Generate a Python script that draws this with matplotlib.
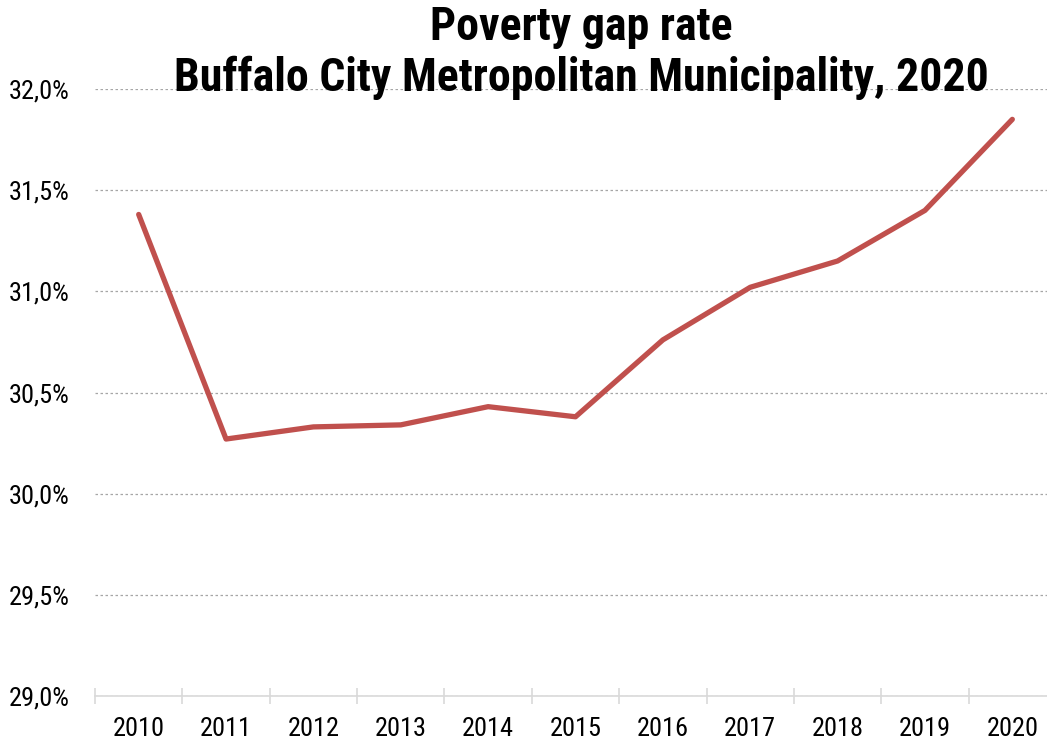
import matplotlib.pyplot as plt
from matplotlib.ticker import FuncFormatter

# --- Data ---
years = ["2010", "2011", "2012", "2013", "2014", "2015",
         "2016", "2017", "2018", "2019", "2020"]
gap_rate = [31.38, 30.27, 30.33, 30.34, 30.43, 30.38,
            30.76, 31.02, 31.15, 31.40, 31.85]

plt.rcParams['font.family'] = ['Roboto Condensed', 'DejaVu Sans']

fig = plt.figure(figsize=(10.47, 7.44), dpi=100)
W, H = 1047, 744
ax = fig.add_axes([95 / W, (H - 696) / H, (1056 - 95) / W, (696 - 89) / H])

x = list(range(len(years)))
ax.plot(x, gap_rate, color='#C0504D', linewidth=3.8, solid_capstyle='round')

ax.set_xlim(-0.5, len(years) - 0.5)
ax.set_ylim(29, 32)
ax.set_yticks([29.0, 29.5, 30.0, 30.5, 31.0, 31.5, 32.0])
ax.yaxis.set_major_formatter(FuncFormatter(lambda v, p: f"{v:.1f}%".replace('.', ',')))
ax.set_xticks(x)
ax.set_xticklabels(years)
ax.set_xticks([i - 0.5 for i in range(len(years) + 1)], minor=True)

ax.grid(axis='y', linestyle=(0, (2, 2)), color='#A6A6A6', linewidth=0.9)
ax.set_axisbelow(True)
for s in ['top', 'right', 'left']:
    ax.spines[s].set_visible(False)
ax.spines['bottom'].set_color('#D9D9D9')
ax.spines['bottom'].set_linewidth(1.2)

ax.tick_params(axis='y', length=0, labelsize=19, pad=18)
ax.tick_params(axis='x', which='major', length=0, labelsize=19, pad=15)
ax.tick_params(axis='x', which='minor', length=12, direction='inout',
               color='#D9D9D9', width=1.2)

fig.text(581 / W, 1 - 5 / H, "Poverty gap rate\nBuffalo City Metropolitan Municipality, 2020",
         ha='center', va='top', fontsize=33, fontweight='bold', linespacing=1.2)

fig.savefig('out.png', dpi=100)
